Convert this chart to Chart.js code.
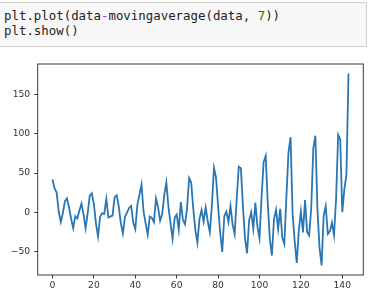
<!DOCTYPE html>
<html lang="en">
<head>
    <meta charset="UTF-8">
    <title>data - movingaverage(data, 7)</title>
    <script src="https://cdn.jsdelivr.net/npm/chart.js"></script>
    <style>
        html, body { margin: 0; padding: 0; background: #fff; width: 369px; height: 297px; overflow: hidden; }
        .cell {
            position: absolute; left: -1px; top: 2px; width: 366px; height: 43px;
            background: #f7f7f7; border: 1px solid #cfcfcf;
        }
        .code {
            position: absolute; left: 4px; top: 8px; margin: 0;
            font-family: "DejaVu Sans Mono", monospace; font-size: 12.4px; line-height: 15.3px;
            color: #222; white-space: pre;
        }
        .o { color: #aa22ff; }
        .n { color: #008800; }
        #chart { position: absolute; left: 0; top: 50px; }
    </style>
</head>
<body>
    <div class="cell"></div>
    <pre class="code">plt.plot(data<span class="o">-</span>movingaverage(data, <span class="n">7</span>))
plt.show()</pre>
    <canvas id="chart" width="369" height="247"></canvas>

    <script>
        // data - movingaverage(data, 7), 144 monthly points
        const residuals = [
            41.9, 30.6, 25.3, 1.1, -12.0, -0.6, 14.3, 17.9, 6.3, -7.9, -19.7, -4.7,
            -7.6, 2.6, 11.1, -2.3, -20.1, -0.7, 21.4, 24.4, 10.3, -14.1, -30.3, -5.4,
            -1.1, -1.7, 17.1, -6.3, -5.0, -3.9, 19.4, 21.9, 7.7, -13.3, -26.6, -5.7,
            -0.3, 5.7, 8.4, -12.7, -20.9, 10.0, 22.3, 35.6, 1.0, -13.9, -28.0, -5.1,
            -6.9, -12.3, 17.6, 6.6, -10.3, -2.1, 22.4, 38.3, 7.3, -13.1, -33.3, -7.0,
            -2.6, -21.9, 13.1, -9.3, -15.0, 4.9, 43.7, 38.1, 4.9, -22.0, -38.1, -8.4,
            3.1, -11.7, 6.3, -11.0, -25.0, 8.7, 56.7, 44.3, 8.1, -25.4, -50.0, -4.7,
            1.1, -12.1, 8.3, -15.0, -27.3, 17.6, 58.1, 56.1, 7.9, -32.7, -51.7, -9.7,
            0.3, -20.7, 12.7, -18.0, -32.7, 19.6, 63.9, 72.0, 11.7, -33.6, -54.6, -8.6,
            3.4, -20.9, 4.6, -31.6, -40.1, 19.6, 76.0, 95.4, -1.9, -36.1, -63.9, -22.7,
            1.4, -25.3, 15.6, -24.6, -29.0, 5.7, 81.6, 97.4, 3.6, -44.6, -67.1, -4.1,
            8.1, -27.1, -23.9, -12.9, -28.9, 17.4, 98.4, 92.6, 0.3, 29.7, 47.6, 176.1
        ];
        const xTicks = [0, 20, 40, 60, 80, 100, 120, 140];
        const yTicks = [-50, 0, 50, 100, 150];

        const points = residuals.map((v, i) => ({ x: i, y: v }));

        // matplotlib style 5% margins
        const xSpan = residuals.length - 1;
        const yMin = Math.min(...residuals), yMax = Math.max(...residuals);
        const ySpan = yMax - yMin;

        const tickFont = { family: 'DejaVu Sans', size: 9.2 };
        const fmt = v => String(v).replace('-', '\u2212');

        // frame on all four sides, like matplotlib spines
        const framePlugin = {
            id: 'frame',
            afterDraw(chart) {
                const { ctx, chartArea: a } = chart;
                ctx.save();
                ctx.strokeStyle = '#3a3a3a';
                ctx.lineWidth = 1;
                ctx.strokeRect(a.left, a.top, a.right - a.left, a.bottom - a.top);
                ctx.restore();
            }
        };

        new Chart(document.getElementById('chart'), {
            type: 'line',
            data: {
                datasets: [{
                    data: points,
                    borderColor: '#2a76b2',
                    borderWidth: 1.8,
                    pointRadius: 0,
                    tension: 0,
                    fill: false
                }]
            },
            options: {
                responsive: false,
                animation: false,
                devicePixelRatio: 1,
                layout: { padding: { top: 14, right: 5.7, left: 0, bottom: 0 } },
                plugins: { legend: { display: false }, tooltip: { enabled: false } },
                scales: {
                    x: {
                        type: 'linear',
                        min: -0.05 * xSpan,
                        max: 1.05 * xSpan,
                        afterBuildTicks: s => { s.ticks = xTicks.map(v => ({ value: v })); },
                        afterFit: s => { s.height = 22; },
                        border: { display: false },
                        grid: { drawOnChartArea: false, drawTicks: true, tickLength: 3.5, color: '#3a3a3a' },
                        ticks: { font: tickFont, color: '#333', padding: 2, maxRotation: 0, callback: fmt }
                    },
                    y: {
                        type: 'linear',
                        min: yMin - 0.05 * ySpan,
                        max: yMax + 0.05 * ySpan,
                        afterBuildTicks: s => { s.ticks = yTicks.map(v => ({ value: v })); },
                        afterFit: s => { s.width = 37.7; },
                        border: { display: false },
                        grid: { drawOnChartArea: false, drawTicks: true, tickLength: 3.5, color: '#3a3a3a' },
                        ticks: { font: tickFont, color: '#333', padding: 4, callback: fmt }
                    }
                }
            },
            plugins: [framePlugin]
        });
    </script>
</body>
</html>
